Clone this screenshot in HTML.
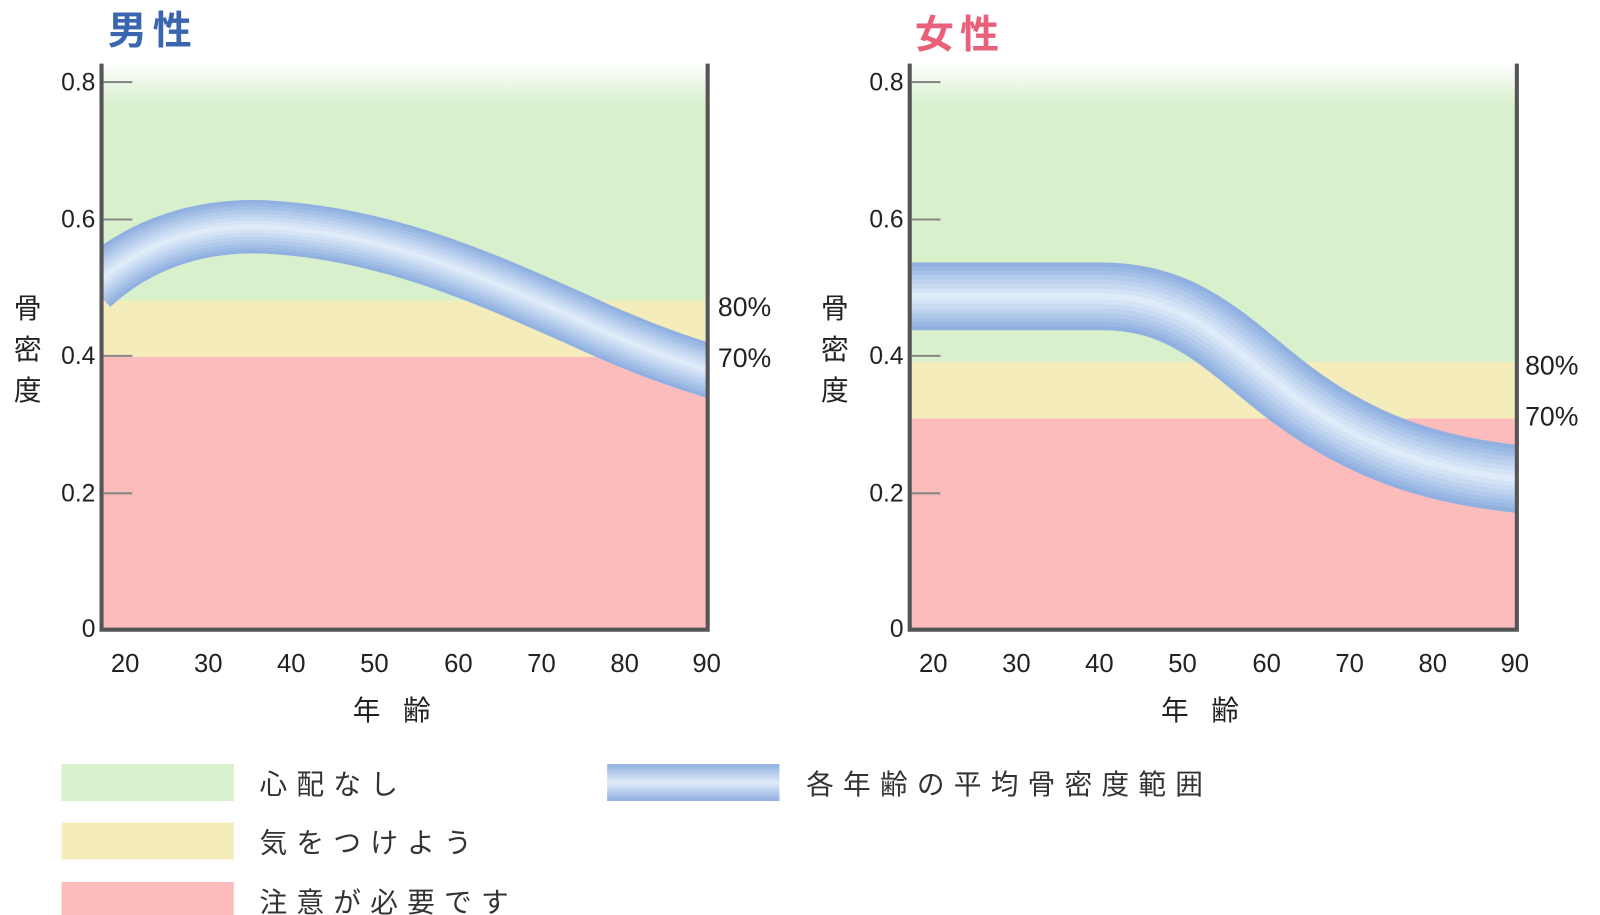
<!DOCTYPE html>
<html><head><meta charset="utf-8"><style>
html,body{margin:0;padding:0;background:#fff;}
svg{display:block;}
text{font-family:"Liberation Sans","Noto Sans CJK JP",sans-serif;}
</style></head><body>
<svg width="1600" height="915" viewBox="0 0 1600 915" xmlns="http://www.w3.org/2000/svg">
<defs>
<linearGradient id="gfade" x1="0" y1="0" x2="0" y2="1">
<stop offset="0" stop-color="#fff"/><stop offset="1" stop-color="#d8f0cc"/>
</linearGradient>
<linearGradient id="leg" x1="0" y1="0" x2="0" y2="1">
<stop offset="0" stop-color="#8fb0e0"/><stop offset="0.5" stop-color="#e0ebf9"/><stop offset="1" stop-color="#8fb0e0"/>
</linearGradient>
<clipPath id="cm"><rect x="100" y="62" width="588" height="551"/></clipPath>
<clipPath id="cf"><rect x="888" y="62" width="590" height="551"/></clipPath>
</defs>
<g transform="scale(1.0256)">
<text x="105" y="43" font-size="38" font-weight="bold" fill="#3a66b0" letter-spacing="6">男性</text>
<text x="892" y="47" font-size="38" font-weight="bold" fill="#e8607a" letter-spacing="6">女性</text>

<rect x="100" y="62" width="588" height="231" fill="#d8f0cc"/>
<rect x="100" y="62" width="588" height="40" fill="url(#gfade)"/>
<rect x="100" y="293" width="588" height="55" fill="#f5ecbb"/>
<rect x="100" y="348" width="588" height="265" fill="#fcbcbc"/>
<g clip-path="url(#cm)" fill="none">
<path d="M90,280 C150,225 220,218 270,222 C380,230 470,270 560,310 C620,338 660,352 700,364" stroke="#8fb0e0" stroke-width="52"/>
<path d="M90,280 C150,225 220,218 270,222 C380,230 470,270 560,310 C620,338 660,352 700,364" stroke="#99b8e3" stroke-width="46"/>
<path d="M90,280 C150,225 220,218 270,222 C380,230 470,270 560,310 C620,338 660,352 700,364" stroke="#a5c0e7" stroke-width="40"/>
<path d="M90,280 C150,225 220,218 270,222 C380,230 470,270 560,310 C620,338 660,352 700,364" stroke="#b1c9eb" stroke-width="33"/>
<path d="M90,280 C150,225 220,218 270,222 C380,230 470,270 560,310 C620,338 660,352 700,364" stroke="#bdd2ef" stroke-width="26"/>
<path d="M90,280 C150,225 220,218 270,222 C380,230 470,270 560,310 C620,338 660,352 700,364" stroke="#c9dbf3" stroke-width="19"/>
<path d="M90,280 C150,225 220,218 270,222 C380,230 470,270 560,310 C620,338 660,352 700,364" stroke="#d5e3f6" stroke-width="12"/>
<path d="M90,280 C150,225 220,218 270,222 C380,230 470,270 560,310 C620,338 660,352 700,364" stroke="#e0ebf9" stroke-width="5"/>
</g>
<path d="M99,62 V614 H690 V62" fill="none" stroke="#555" stroke-width="4"/>
<g stroke="#888" stroke-width="2">
<line x1="101" y1="80" x2="129" y2="80"/><line x1="101" y1="214" x2="129" y2="214"/>
<line x1="101" y1="347" x2="129" y2="347"/><line x1="101" y1="481" x2="129" y2="481"/>
</g>
<g font-size="24" fill="#222" text-anchor="end">
<text x="93" y="88">0.8</text><text x="93" y="222">0.6</text><text x="93" y="355">0.4</text><text x="93" y="489">0.2</text><text x="93" y="621">0</text>
</g>
<g font-size="25" fill="#222" text-anchor="middle">
<text x="122" y="655">20</text><text x="203" y="655">30</text><text x="284" y="655">40</text><text x="365" y="655">50</text><text x="447" y="655">60</text><text x="528" y="655">70</text><text x="609" y="655">80</text><text x="689" y="655">90</text>
</g>
<g font-size="27" fill="#222" text-anchor="middle">
<text x="27" y="310">骨</text><text x="27" y="350">密</text><text x="27" y="390">度</text>
<text x="393" y="702" letter-spacing="22">年齢</text>
</g>
<text x="700" y="308" font-size="26" fill="#222">80%</text>
<text x="700" y="358" font-size="26" fill="#222">70%</text>

<rect x="888" y="62" width="590" height="291" fill="#d8f0cc"/>
<rect x="888" y="62" width="590" height="40" fill="url(#gfade)"/>
<rect x="888" y="353" width="590" height="55" fill="#f5ecbb"/>
<rect x="888" y="408" width="590" height="205" fill="#fcbcbc"/>
<g clip-path="url(#cf)" fill="none">
<path d="M870,289 L1075,289 C1160,289 1200,340 1260,385 C1330,437 1400,460 1490,468" stroke="#8fb0e0" stroke-width="66"/>
<path d="M870,289 L1075,289 C1160,289 1200,340 1260,385 C1330,437 1400,460 1490,468" stroke="#99b8e3" stroke-width="58"/>
<path d="M870,289 L1075,289 C1160,289 1200,340 1260,385 C1330,437 1400,460 1490,468" stroke="#a5c0e7" stroke-width="50"/>
<path d="M870,289 L1075,289 C1160,289 1200,340 1260,385 C1330,437 1400,460 1490,468" stroke="#b1c9eb" stroke-width="42"/>
<path d="M870,289 L1075,289 C1160,289 1200,340 1260,385 C1330,437 1400,460 1490,468" stroke="#bdd2ef" stroke-width="33"/>
<path d="M870,289 L1075,289 C1160,289 1200,340 1260,385 C1330,437 1400,460 1490,468" stroke="#c9dbf3" stroke-width="24"/>
<path d="M870,289 L1075,289 C1160,289 1200,340 1260,385 C1330,437 1400,460 1490,468" stroke="#d5e3f6" stroke-width="15"/>
<path d="M870,289 L1075,289 C1160,289 1200,340 1260,385 C1330,437 1400,460 1490,468" stroke="#e0ebf9" stroke-width="6"/>
</g>
<path d="M887,62 V614 H1479 V62" fill="none" stroke="#555" stroke-width="4"/>
<g stroke="#888" stroke-width="2">
<line x1="889" y1="80" x2="917" y2="80"/><line x1="889" y1="214" x2="917" y2="214"/>
<line x1="889" y1="347" x2="917" y2="347"/><line x1="889" y1="481" x2="917" y2="481"/>
</g>
<g font-size="24" fill="#222" text-anchor="end">
<text x="881" y="88">0.8</text><text x="881" y="222">0.6</text><text x="881" y="355">0.4</text><text x="881" y="489">0.2</text><text x="881" y="621">0</text>
</g>
<g font-size="25" fill="#222" text-anchor="middle">
<text x="910" y="655">20</text><text x="991" y="655">30</text><text x="1072" y="655">40</text><text x="1153" y="655">50</text><text x="1235" y="655">60</text><text x="1316" y="655">70</text><text x="1397" y="655">80</text><text x="1477" y="655">90</text>
</g>
<g font-size="27" fill="#222" text-anchor="middle">
<text x="814" y="310">骨</text><text x="814" y="350">密</text><text x="814" y="390">度</text>
<text x="1181" y="702" letter-spacing="22">年齢</text>
</g>
<text x="1487" y="365" font-size="26" fill="#222">80%</text>
<text x="1487" y="415" font-size="26" fill="#222">70%</text>

<rect x="60" y="745" width="168" height="36" fill="#d8f0cc"/>
<rect x="60" y="802" width="168" height="36" fill="#f5ecbb"/>
<rect x="60" y="860" width="168" height="36" fill="#fcbcbc"/>
<rect x="592" y="745" width="168" height="36" fill="url(#leg)"/>
<g font-size="27" fill="#333" letter-spacing="9">
<text x="253" y="774">心配なし</text>
<text x="253" y="831">気をつけよう</text>
<text x="253" y="889">注意が必要です</text>
<text x="786" y="774">各年齢の平均骨密度範囲</text>
</g>
</g>
</svg>
</body></html>
